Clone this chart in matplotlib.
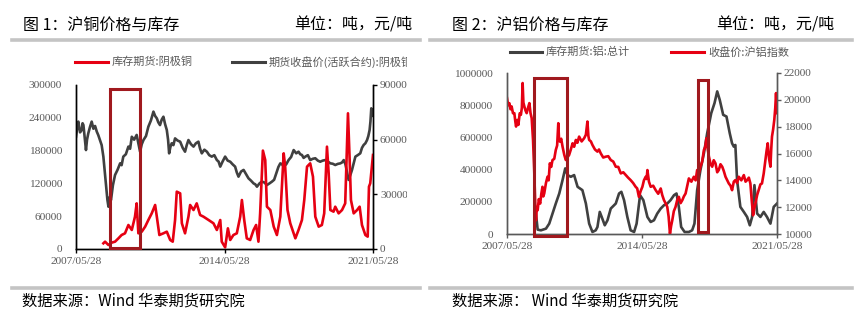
import numpy as np
import matplotlib.pyplot as plt
from matplotlib.lines import Line2D
from matplotlib.patches import Rectangle
from matplotlib.transforms import Bbox, TransformedBbox

plt.rcParams['font.family'] = ['Liberation Serif', 'Noto Sans CJK SC']
CJK = ['Noto Sans CJK SC', 'DejaVu Sans']

# ---- panel 1: copper (decimal years) ----
cu_price_t = [2007.40, 2007.45, 2007.51, 2007.59, 2007.67, 2007.71, 2007.75, 2007.81, 2007.87, 2007.92,
              2007.98, 2008.06, 2008.14, 2008.22, 2008.30, 2008.38, 2008.45, 2008.53, 2008.61, 2008.69,
              2008.76, 2008.82, 2008.88, 2008.93, 2008.99, 2009.05, 2009.14, 2009.24, 2009.36, 2009.48,
              2009.55, 2009.63, 2009.75, 2009.87, 2009.95, 2010.03, 2010.14, 2010.26, 2010.34, 2010.42,
              2010.50, 2010.58, 2010.70, 2010.81, 2010.93, 2011.05, 2011.13, 2011.21, 2011.28, 2011.36,
              2011.44, 2011.52, 2011.60, 2011.68, 2011.74, 2011.79, 2011.85, 2011.91, 2011.99, 2012.07,
              2012.19, 2012.31, 2012.43, 2012.54, 2012.62, 2012.70, 2012.82, 2012.94, 2013.05, 2013.17,
              2013.25, 2013.33, 2013.45, 2013.57, 2013.68, 2013.80, 2013.92, 2014.04, 2014.12, 2014.20,
              2014.31, 2014.43, 2014.55, 2014.67, 2014.78, 2014.90, 2014.98, 2015.06, 2015.18, 2015.30,
              2015.42, 2015.53, 2015.65, 2015.77, 2015.85, 2015.93, 2016.05, 2016.16, 2016.28, 2016.40,
              2016.52, 2016.64, 2016.74, 2016.84, 2016.94, 2017.03, 2017.11, 2017.19, 2017.31, 2017.42,
              2017.54, 2017.66, 2017.78, 2017.89, 2017.97, 2018.05, 2018.13, 2018.21, 2018.33, 2018.44,
              2018.56, 2018.68, 2018.80, 2018.91, 2019.03, 2019.15, 2019.27, 2019.39, 2019.50, 2019.62,
              2019.74, 2019.86, 2019.94, 2020.02, 2020.10, 2020.17, 2020.25, 2020.33, 2020.41, 2020.49,
              2020.57, 2020.68, 2020.80, 2020.88, 2020.96, 2021.04, 2021.12, 2021.18, 2021.24, 2021.28,
              2021.32, 2021.36, 2021.40]
cu_price = [61600, 66000, 69900, 64000, 65300, 69000, 68000, 61000, 54300, 60000,
            63500, 67000, 69900, 66000, 67500, 64400, 62500, 59800, 57000, 50700,
            42000, 34200, 27000, 23200, 28500, 26900, 35000, 40600, 43500, 47000,
            46000, 50700, 52000, 56200, 55000, 61600, 60000, 62600, 58000, 53400,
            57500, 59800, 62000, 67100, 70500, 75400, 73000, 71700, 69500, 68000,
            71000, 72600, 68500, 65300, 60000, 52500, 56000, 58000, 57000, 60700,
            59500, 58900, 55500, 53400, 57000, 59800, 57500, 56200, 58000, 58900,
            55000, 52500, 54500, 53400, 51500, 50700, 51500, 48800, 48000, 45200,
            48000, 50700, 48500, 47900, 46500, 45200, 42000, 39700, 42500, 43400,
            41000, 38800, 37500, 36000, 35500, 34200, 36000, 37000, 36500, 35100,
            36000, 37000, 38000, 41500, 45000, 47000, 46500, 45200, 46500, 48800,
            50500, 54300, 52500, 53400, 52000, 51600, 50000, 50700, 51500, 48800,
            49500, 49800, 48500, 47900, 48500, 48800, 48000, 47000, 46800, 46100,
            46700, 47000, 47500, 48800, 46500, 42400, 37900, 40500, 43400, 47000,
            50700, 51500, 52500, 55500, 57100, 58000, 59800, 62000, 65300, 70000,
            77200, 73000, 74500]

cu_stock_t = [2008.69, 2008.77, 2008.93, 2009.08, 2009.24, 2009.40, 2009.55, 2009.71, 2009.87, 2010.03,
              2010.18, 2010.26, 2010.34, 2010.50, 2010.66, 2010.81, 2010.97, 2011.13, 2011.21, 2011.33,
              2011.52, 2011.68, 2011.84, 2011.96, 2012.07, 2012.15, 2012.31, 2012.39, 2012.54, 2012.70,
              2012.78, 2012.94, 2013.09, 2013.25, 2013.41, 2013.65, 2013.88, 2014.04, 2014.20, 2014.27,
              2014.43, 2014.56, 2014.67, 2014.82, 2014.98, 2015.14, 2015.22, 2015.33, 2015.45, 2015.61,
              2015.77, 2015.89, 2016.00, 2016.08, 2016.21, 2016.32, 2016.40, 2016.56, 2016.72, 2016.87,
              2017.03, 2017.19, 2017.26, 2017.37, 2017.50, 2017.74, 2017.89, 2018.05, 2018.16, 2018.29,
              2018.44, 2018.57, 2018.68, 2018.84, 2018.99, 2019.10, 2019.23, 2019.31, 2019.39, 2019.54,
              2019.62, 2019.78, 2019.94, 2020.09, 2020.22, 2020.30, 2020.36, 2020.49, 2020.65, 2020.77,
              2020.88, 2021.04, 2021.15, 2021.21, 2021.27, 2021.40]
cu_stock = [10400, 13400, 7300, 11600, 13400, 19500, 25600, 28700, 43900, 34800,
            59100, 83500, 28700, 31700, 40900, 53000, 65200, 80500, 59100, 25600,
            28700, 31700, 16500, 13400, 53000, 104900, 101800, 47000, 28700, 59100,
            80500, 71300, 83500, 62200, 59100, 53000, 47000, 34800, 53000, 13400,
            3000, 37800, 16500, 25600, 28700, 59100, 89600, 53000, 19500, 16500,
            34800, 43900, 13400, 65200, 180000, 162800, 77400, 71300, 40900, 25600,
            59100, 175000, 150600, 71300, 47000, 19500, 34800, 53000, 89600, 150600,
            156700, 132300, 59100, 40900, 43900, 65200, 187200, 138400, 71300, 68300,
            77400, 65200, 71300, 83500, 248200, 162800, 89600, 65200, 71300, 77400,
            43900, 25600, 22600, 114000, 120100, 172000]

# ---- panel 2: aluminium ----
al_price_t = [2007.40, 2007.46, 2007.52, 2007.58, 2007.64, 2007.71, 2007.78, 2007.83, 2007.87, 2007.93,
              2007.99, 2008.06, 2008.12, 2008.17, 2008.21, 2008.25, 2008.30, 2008.36, 2008.42, 2008.49,
              2008.56, 2008.62, 2008.68, 2008.75, 2008.81, 2008.86, 2008.90, 2008.95, 2008.99, 2009.05,
              2009.12, 2009.18, 2009.24, 2009.28, 2009.33, 2009.42, 2009.50, 2009.56, 2009.62, 2009.69,
              2009.76, 2009.85, 2009.93, 2010.00, 2010.06, 2010.10, 2010.14, 2010.21, 2010.28, 2010.37,
              2010.45, 2010.53, 2010.62, 2010.71, 2010.80, 2010.88, 2010.97, 2011.05, 2011.14, 2011.27,
              2011.40, 2011.49, 2011.57, 2011.62, 2011.66, 2011.75, 2011.83, 2011.96, 2012.09, 2012.17,
              2012.26, 2012.39, 2012.52, 2012.65, 2012.78, 2012.91, 2013.04, 2013.17, 2013.30, 2013.43,
              2013.56, 2013.68, 2013.81, 2013.94, 2014.07, 2014.15, 2014.24, 2014.33, 2014.42, 2014.50,
              2014.59, 2014.64, 2014.68, 2014.76, 2014.85, 2014.98, 2015.11, 2015.24, 2015.37, 2015.45,
              2015.54, 2015.62, 2015.71, 2015.78, 2015.85, 2015.91, 2015.97, 2016.05, 2016.14, 2016.22,
              2016.31, 2016.40, 2016.49, 2016.57, 2016.66, 2016.75, 2016.83, 2016.96, 2017.09, 2017.18,
              2017.26, 2017.35, 2017.43, 2017.52, 2017.61, 2017.68, 2017.74, 2017.80, 2017.87, 2017.96,
              2018.04, 2018.12, 2018.21, 2018.30, 2018.38, 2018.47, 2018.56, 2018.64, 2018.73, 2018.82,
              2018.90, 2018.99, 2019.07, 2019.16, 2019.24, 2019.33, 2019.42, 2019.55, 2019.68, 2019.77,
              2019.85, 2019.94, 2020.02, 2020.09, 2020.16, 2020.22, 2020.28, 2020.37, 2020.45, 2020.54,
              2020.62, 2020.71, 2020.80, 2020.86, 2020.92, 2020.99, 2021.06, 2021.10, 2021.14, 2021.20,
              2021.26, 2021.31, 2021.35, 2021.40]
al_price = [20130, 19600, 19755, 19300, 19506, 19000, 19007, 18400, 18009, 18500,
            18134, 19000, 18882, 19400, 21252, 19800, 19506, 19200, 19007, 19400,
            19755, 19000, 18633, 17000, 14765, 12500, 11023, 12000, 11771, 12600,
            12270, 13000, 13518, 12800, 13019, 13800, 14266, 14000, 15264, 15000,
            15514, 15600, 16262, 16600, 18258, 17000, 16886, 17100, 16512, 15900,
            15514, 15700, 15888, 16300, 16761, 16500, 17011, 16800, 17260, 16900,
            17136, 17400, 18383, 17300, 17011, 16900, 16637, 16300, 16138, 16300,
            16013, 15700, 15763, 15800, 15514, 15400, 15015, 15000, 14516, 14600,
            14391, 14200, 14017, 13800, 13518, 13400, 12769, 13200, 13518, 14000,
            14266, 14100, 14765, 13900, 13518, 13600, 13268, 13000, 13393, 12900,
            12520, 12300, 12021, 11300, 10025, 10600, 11023, 11700, 12021, 12500,
            12769, 12300, 12520, 12800, 13019, 13600, 14142, 13900, 14266, 14000,
            14765, 14500, 15015, 15400, 16262, 16500, 17136, 16400, 15763, 15200,
            15015, 15500, 15264, 14600, 14765, 15200, 15015, 14700, 14266, 14000,
            13767, 13600, 13268, 13900, 14017, 13800, 14266, 14000, 14391, 13900,
            14017, 14200, 13767, 12500, 11397, 11900, 12270, 12900, 13268, 13700,
            13767, 14500, 15514, 16200, 16761, 15600, 15015, 16300, 17260, 17800,
            18508, 19400, 20504, 19007]

al_stock_t = [2008.90, 2008.99, 2009.16, 2009.42, 2009.59, 2009.76, 2009.93, 2010.11, 2010.28, 2010.42,
              2010.54, 2010.71, 2010.88, 2011.06, 2011.31, 2011.49, 2011.66, 2011.83, 2012.00, 2012.09,
              2012.21, 2012.31, 2012.47, 2012.61, 2012.78, 2013.04, 2013.21, 2013.33, 2013.47, 2013.64,
              2013.81, 2013.99, 2014.12, 2014.30, 2014.47, 2014.68, 2014.85, 2015.02, 2015.19, 2015.37,
              2015.54, 2015.71, 2015.88, 2016.06, 2016.19, 2016.31, 2016.43, 2016.61, 2016.83, 2017.00,
              2017.12, 2017.26, 2017.43, 2017.61, 2017.78, 2017.99, 2018.16, 2018.30, 2018.43, 2018.61,
              2018.78, 2018.95, 2019.07, 2019.16, 2019.24, 2019.33, 2019.50, 2019.68, 2019.85, 2019.99,
              2020.11, 2020.23, 2020.37, 2020.54, 2020.71, 2020.88, 2021.06, 2021.23, 2021.40]
al_stock = [126800, 27000, 22900, 33300, 64400, 126800, 189200, 251600, 334700, 407500,
            365900, 355500, 365900, 293100, 272300, 189200, 64400, 12500, 22900, 43700,
            137200, 106000, 54100, 85200, 158000, 189200, 251600, 262000, 210000, 106000,
            22900, 12500, 64400, 241200, 210000, 106000, 74800, 85200, 126800, 158000,
            178800, 189200, 210000, 241200, 251600, 168400, 43700, 12500, 12500, 22900,
            64400, 272300, 397100, 501000, 625800, 750500, 812900, 885700, 833700, 740100,
            729700, 625800, 563400, 542600, 553000, 334700, 168400, 137200, 106000, 54100,
            106000, 303500, 126800, 106000, 137200, 106000, 64400, 168400, 189200]

date_ticks = [2007.40, 2014.40, 2021.40]
date_labels = ['2007/05/28', '2014/05/28', '2021/05/28']

RED = '#E60012'
DARK = '#404040'
BOX = '#A0191E'
GRAY = '#595959'

W, H = 868, 327
fig = plt.figure(figsize=(W / 100, H / 100), dpi=100)


def fx(px):
    return px / W


def fy(py):
    return 1 - py / H


def style_axes(ax, ax2, spine_col, left_ticks, right_ticks):
    for a in (ax, ax2):
        a.spines['top'].set_visible(False)
        for s in ('left', 'right', 'bottom'):
            a.spines[s].set_color(spine_col)
            a.spines[s].set_linewidth(1.0)
    ax.set_xlim(2007.40, 2021.40)
    ax.set_xticks(date_ticks)
    ax.set_xticklabels(date_labels)
    ax.set_yticks(left_ticks)
    ax.set_yticklabels([str(v) for v in left_ticks])
    ax2.set_yticks(right_ticks)
    ax2.set_yticklabels([str(v) for v in right_ticks])
    ax.tick_params(axis='x', length=3, width=1, color=spine_col, labelsize=8.2,
                   labelcolor=GRAY, pad=3)
    ax.tick_params(axis='y', length=0, labelsize=8.2, labelcolor=GRAY, pad=10)
    ax2.tick_params(axis='y', length=3, width=1, color=spine_col, labelsize=8.2,
                    labelcolor=GRAY, pad=2)


# ================= panel 1 =================
ax1 = fig.add_axes([fx(76), fy(249), fx(297), (249 - 85) / H])
ax1r = ax1.twinx()
ax1r.plot(cu_price_t, cu_price, color=DARK, lw=1.9)
ax1.plot(cu_stock_t, cu_stock, color=RED, lw=1.9)
ax1.set_zorder(ax1r.get_zorder() + 1)
ax1.patch.set_visible(False)
ax1.set_ylim(0, 300000)
ax1r.set_ylim(0, 90000)
style_axes(ax1, ax1r, 'black', [0, 60000, 120000, 180000, 240000, 300000],
           [0, 30000, 60000, 90000])
ax1.add_patch(Rectangle((2009.00, 1200), 1.42, 290800, fill=False, ec=BOX, lw=2.2,
                        clip_on=False, zorder=10))

clip1 = TransformedBbox(Bbox([[0, 0], [407 / W, 1]]), fig.transFigure)
for lab in ax1r.get_yticklabels():
    lab.set_clip_on(True)
    lab.set_clip_box(clip1)

# ================= panel 2 =================
ax2 = fig.add_axes([fx(507), fy(234), fx(270), (234 - 73) / H])
ax2r = ax2.twinx()
ax2.plot(al_stock_t, al_stock, color=DARK, lw=1.9)
ax2r.plot(al_price_t, al_price, color=RED, lw=1.9)
ax2.set_ylim(0, 1000000)
ax2r.set_ylim(10000, 22000)
style_axes(ax2, ax2r, GRAY, [0, 200000, 400000, 600000, 800000, 1000000],
           [10000, 12000, 14000, 16000, 18000, 20000, 22000])
ax2r.add_patch(Rectangle((2008.78, 9825), 1.71, 11800, fill=False, ec=BOX, lw=2.2,
                         clip_on=False, zorder=10))
ax2r.add_patch(Rectangle((2017.31, 10150), 0.52, 11300, fill=False, ec=BOX, lw=2.2,
                         clip_on=False, zorder=10))

# ================= headers / legends / footers =================
for x0, x1 in ((12, 420), (430, 852)):
    fig.add_artist(Line2D([fx(x0), fx(x1)], [fy(39.5)] * 2, color='#C4C4C4', lw=2.6))
    fig.add_artist(Line2D([fx(x0), fx(x1)], [fy(288)] * 2, color='#C4C4C4', lw=2.6))

fig.text(fx(23), fy(25), '图 1：沪铜价格与库存', family=CJK, fontsize=11.5, va='center')
fig.text(fx(412), fy(25), '单位：吨，元/吨', family=CJK, fontsize=11.5, va='center', ha='right')
fig.text(fx(452), fy(25), '图 2：沪铝价格与库存', family=CJK, fontsize=11.5, va='center')
fig.text(fx(834), fy(25), '单位：吨，元/吨', family=CJK, fontsize=11.5, va='center', ha='right')

fig.text(fx(22), fy(301), '数据来源：Wind 华泰期货研究院', family=CJK, fontsize=11, va='center')
fig.text(fx(452), fy(301), '数据来源： Wind 华泰期货研究院', family=CJK, fontsize=11, va='center')

legend_items = [
    (75, 108, 62, RED, '库存期货:阴极铜'),
    (232, 265, 62, DARK, '期货收盘价(活跃合约):阴极铜'),
    (510, 542, 52, DARK, '库存期货:铝:总计'),
    (671, 704, 52, RED, '收盘价:沪铝指数'),
]
for x0, x1, yy, col, txt in legend_items:
    fig.add_artist(Line2D([fx(x0), fx(x1)], [fy(yy)] * 2, color=col, lw=2.2))
    t = fig.text(fx(x1 + 4), fy(yy), txt, family=CJK, fontsize=8, color=GRAY, va='center')
    if x0 == 232:
        t.set_clip_on(True)
        t.set_clip_box(clip1)

fig.savefig('out.png', dpi=100)
